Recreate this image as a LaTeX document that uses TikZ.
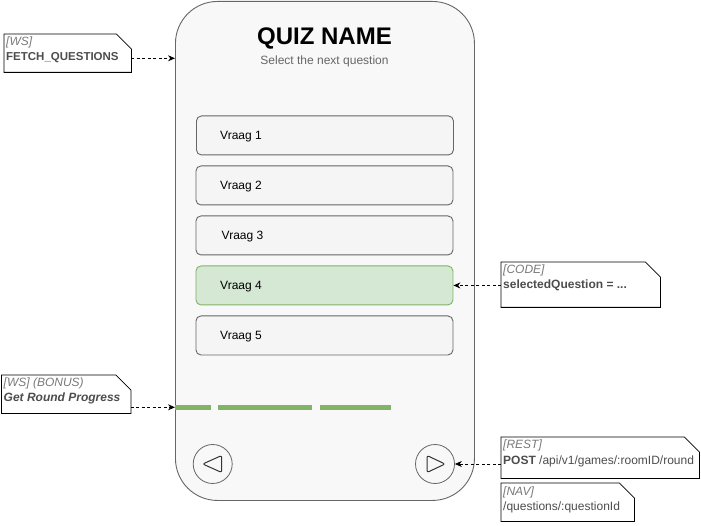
\documentclass[tikz,border=0pt]{standalone}
\usepackage{fontspec}
\setmainfont{Liberation Sans}
\usetikzlibrary{arrows.meta}
\definecolor{phonefill}{HTML}{F8F8F8}
\definecolor{strokegray}{HTML}{666666}
\definecolor{boxfill}{HTML}{F5F5F5}
\definecolor{greenfill}{HTML}{D5E8D4}
\definecolor{greenstroke}{HTML}{82B366}
\definecolor{labelgray}{HTML}{7A7A7A}
\definecolor{contentgray}{HTML}{4D4D4D}
\definecolor{subgray}{HTML}{666666}
\newcommand\notefold[1]{%
  \draw[noteline] (#1.north west) -- ([xshift=-15pt]#1.north east)
    -- ([yshift=-15pt]#1.north east) -- (#1.south east)
    -- (#1.south west) -- cycle;}
\begin{document}
\begin{tikzpicture}[x=1pt,y=-1pt,
  phone/.style={draw=strokegray, fill=phonefill, rounded corners=42pt,
    minimum width=299pt, minimum height=499pt, inner sep=0, anchor=north west, line width=0.9pt},
  qbox/.style={draw=strokegray, fill=boxfill, rounded corners=5pt,
    minimum width=257pt, minimum height=39pt, inner sep=0, anchor=north west, line width=0.9pt},
  qsel/.style={qbox, draw=greenstroke, fill=greenfill},
  qtext/.style={font=\fontsize{12}{14}\selectfont, anchor=base west, inner sep=0},
  notebox/.style={inner sep=0, anchor=north west},
  noteline/.style={draw=black, fill=white, line width=0.8pt},
  lbl/.style={font=\fontsize{12}{14}\selectfont\itshape, text=labelgray, anchor=base west, inner sep=0},
  cnt/.style={font=\fontsize{12}{14}\selectfont, text=contentgray, anchor=base west, inner sep=0},
  conn/.style={draw=black, line width=0.8pt, dash pattern=on 3pt off 2.5pt,
    -{Stealth[length=7pt,width=6pt]}},
  progseg/.style={fill=greenstroke, minimum height=4.5pt, inner sep=0, anchor=west},
  btn/.style={circle, draw=strokegray, minimum size=39pt, inner sep=0, line width=0.8pt},
  tri/.style={draw=black!80, line width=1pt, rounded corners=2pt, line join=round}
]
\useasboundingbox (0,0) rectangle (701,526);

% phone frame
\node[phone] (phone) at (175,1) {};
\node[font=\fontsize{24}{28}\selectfont\bfseries, anchor=base, inner sep=0] (title) at (324.5,44.5) {QUIZ NAME};
\node[font=\fontsize{12}{14}\selectfont, text=subgray, anchor=base, inner sep=0] (sub) at (324.5,65) {Select the next question};

% question boxes
\node[qbox] (q1) at (196,115.5) {};
\node[qbox] (q2) at (195.5,165.5) {};
\node[qbox] (q3) at (195.5,215.5) {};
\node[qsel] (q4) at (195.5,265.5) {};
\node[qbox] (q5) at (195.5,315.5) {};
\node[qtext] (t1) at ([xshift=24pt,yshift=-4.3pt]q1.west) {Vraag 1};
\node[qtext] (t2) at ([xshift=24.5pt,yshift=-4.3pt]q2.west) {Vraag 2};
\node[qtext] (t3) at ([xshift=26pt,yshift=-4.3pt]q3.west) {Vraag 3};
\node[qtext] (t4) at ([xshift=24.5pt,yshift=-4.3pt]q4.west) {Vraag 4};
\node[qtext] (t5) at ([xshift=24.5pt,yshift=-4.3pt]q5.west) {Vraag 5};

% progress
\node[progseg, minimum width=35.5pt] (s1) at (175,407.3) {};
\node[progseg, minimum width=94pt] (s2) at (218,407.3) {};
\node[progseg, minimum width=71pt] (s3) at (319.5,407.3) {};

% buttons
\node[btn] (bl) at (212.7,464) {};
\node[btn] (br) at (435,464) {};
\draw[tri] ([xshift=-10pt]bl.center) -- ([xshift=9pt,yshift=8.5pt]bl.center)
  -- ([xshift=9pt,yshift=-8.5pt]bl.center) -- cycle;
\draw[tri] ([xshift=10pt]br.center) -- ([xshift=-8pt,yshift=8.5pt]br.center)
  -- ([xshift=-8pt,yshift=-8.5pt]br.center) -- cycle;

% notes
\node[notebox, minimum width=127pt, minimum height=38pt] (n1) at (4,34) {};
\notefold{n1}
\node[lbl] (n1a) at ([xshift=2pt,yshift=-11.5pt]n1.north west) {[WS]};
\node[cnt, font=\fontsize{11.5}{14}\selectfont\bfseries] (n1b) at ([xshift=2pt,yshift=-26.7pt]n1.north west) {FETCH\_QUESTIONS};

\node[notebox, minimum width=159pt, minimum height=45pt] (n2) at (501,262) {};
\notefold{n2}
\node[lbl] (n2a) at ([xshift=2pt,yshift=-12pt]n2.north west) {[CODE]};
\node[cnt, font=\fontsize{12}{14}\selectfont\bfseries] (n2b) at ([xshift=2pt,yshift=-27pt]n2.north west) {selectedQuestion = ...};

\node[notebox, minimum width=129pt, minimum height=38pt] (n3) at (1.5,375) {};
\notefold{n3}
\node[lbl] (n3a) at ([xshift=2pt,yshift=-11.5pt]n3.north west) {[WS] (BONUS)};
\node[cnt, font=\fontsize{12}{14}\selectfont\bfseries\itshape] (n3b) at ([xshift=2pt,yshift=-26.5pt]n3.north west) {Get Round Progress};

\node[notebox, minimum width=198pt, minimum height=41pt] (n4) at (501,437) {};
\notefold{n4}
\node[lbl] (n4a) at ([xshift=2pt,yshift=-11.5pt]n4.north west) {[REST]};
\node[cnt] (n4b) at ([xshift=2pt,yshift=-27pt]n4.north west) {\textbf{POST} /api/v1/games/:roomID/round};

\node[notebox, minimum width=133pt, minimum height=38pt] (n5) at (501,483) {};
\notefold{n5}
\node[lbl] (n5a) at ([xshift=2pt,yshift=-12pt]n5.north west) {[NAV]};
\node[cnt] (n5b) at ([xshift=2pt,yshift=-27pt]n5.north west) {/questions/:questionId};

% connectors
\coordinate (a1) at (131,58.3);
\draw[conn] (n1.east |- a1) -- (phone.west |- a1);
\draw[conn] (n2.west |- q4.east) -- (q4.east);
\draw[conn] (n3.east |- s1.west) -- (s1.west);
\draw[conn] (n4.west |- br.east) -- (br.east);
\end{tikzpicture}
\end{document}
